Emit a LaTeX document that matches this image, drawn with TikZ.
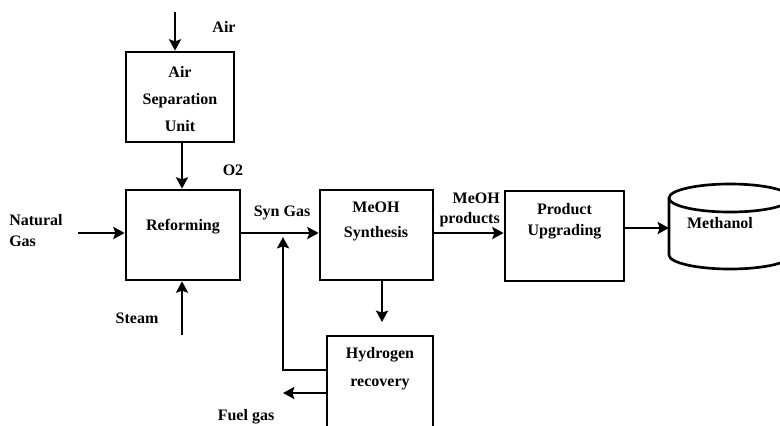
\documentclass[tikz,border=0pt]{standalone}
\usepackage{fontspec}
\setmainfont{Liberation Serif}
\usetikzlibrary{arrows.meta}
\begin{document}
\begin{tikzpicture}[x=0.75pt,y=-0.75pt,
  line/.style={line width=2pt},
  flow/.style={line, -{Stealth[length=8.5pt,width=9pt,inset=1.5pt]}},
  unitbox/.style={draw, line width=2pt, rectangle, minimum height=67.5pt, inner sep=0pt},
  lbl/.style={font=\bfseries\fontsize{12}{#1}\selectfont, inner sep=0pt, align=center},
  lbl/.default=15
]
\useasboundingbox (0,0) rectangle (780,425);
\clip (0,0) rectangle (780,425);

% process units
\node[unitbox, minimum width=81pt] (asu) at (180,97) {};
\node[unitbox, minimum width=85.5pt] (ref) at (183,235) {};
\node[unitbox, minimum width=84.75pt] (syn) at (376.5,235) {};
\node[unitbox, minimum width=79.5pt, minimum height=93pt] (hyd) at (380,398) {};
\node[unitbox, minimum width=89.25pt] (upg) at (564.5,236) {};

% unit names
\node[lbl=20.25] (asut) at (180,99) {Air\\Separation\\Unit};
\node[lbl] (reft) at (183,227) {Reforming};
\node[lbl=18.75] (synt) at (376,221) {MeOH\\Synthesis};
\node[lbl=21] (hydt) at (380,369) {Hydrogen\\recovery};
\node[lbl=15.75] (upgt) at (564.5,221) {Product\\Upgrading};

% methanol tank
\draw[line] (669,198) -- (669,255)
  arc[start angle=180, end angle=360, x radius=45.75pt, y radius=10.5pt] -- (791,198);
\draw[line] (730,198) ellipse[x radius=45.75pt, y radius=10.5pt];
\node[lbl] (tankt) at (720,223) {Methanol};

% stream labels
\node[lbl] (airl) at (224,27) {Air};
\node[lbl] (o2l) at (233,170) {O2};
\node[lbl=15.75, align=left, anchor=west] (ngl) at (9,230.5) {Natural\\Gas};
\node[lbl] (steaml) at (137,318) {Steam};
\node[lbl] (synl) at (282,213) {Syn Gas};
\node[lbl=15, align=right, anchor=east] (prodl) at (500,210) {MeOH\\products};
\node[lbl] (fuell) at (246,417) {Fuel gas};

% stream connectors
\coordinate (airsrc) at (175,12);
\draw[flow] (airsrc) -- (asu.north -| airsrc);

\coordinate (o2x) at (182,0);
\draw[flow] (asu.south -| o2x) -- (ref.north -| o2x);

\coordinate (gasin) at (78,233);
\draw[flow] (gasin) -- (ref.west |- gasin);

\coordinate (steamin) at (182,335);
\draw[flow] (steamin) -- (ref.south -| steamin);

\coordinate (synrow) at (0,233);
\draw[flow] (ref.east |- synrow) -- (syn.west |- synrow);
\draw[flow] (syn.east |- synrow) -- (upg.west |- synrow);

\coordinate (dropend) at (382,322);
\draw[flow] (syn.south -| dropend) -- (dropend);

\coordinate (recyc) at (283,370);
\coordinate (recycend) at (283,237);
\draw[flow] (hyd.west |- recyc) -- (recyc) -- (recycend);

\coordinate (fuelout) at (283,393);
\draw[flow] (hyd.west |- fuelout) -- (fuelout);

\coordinate (tankin) at (669,228);
\draw[flow] (upg.east |- tankin) -- (tankin);
\end{tikzpicture}
\end{document}
